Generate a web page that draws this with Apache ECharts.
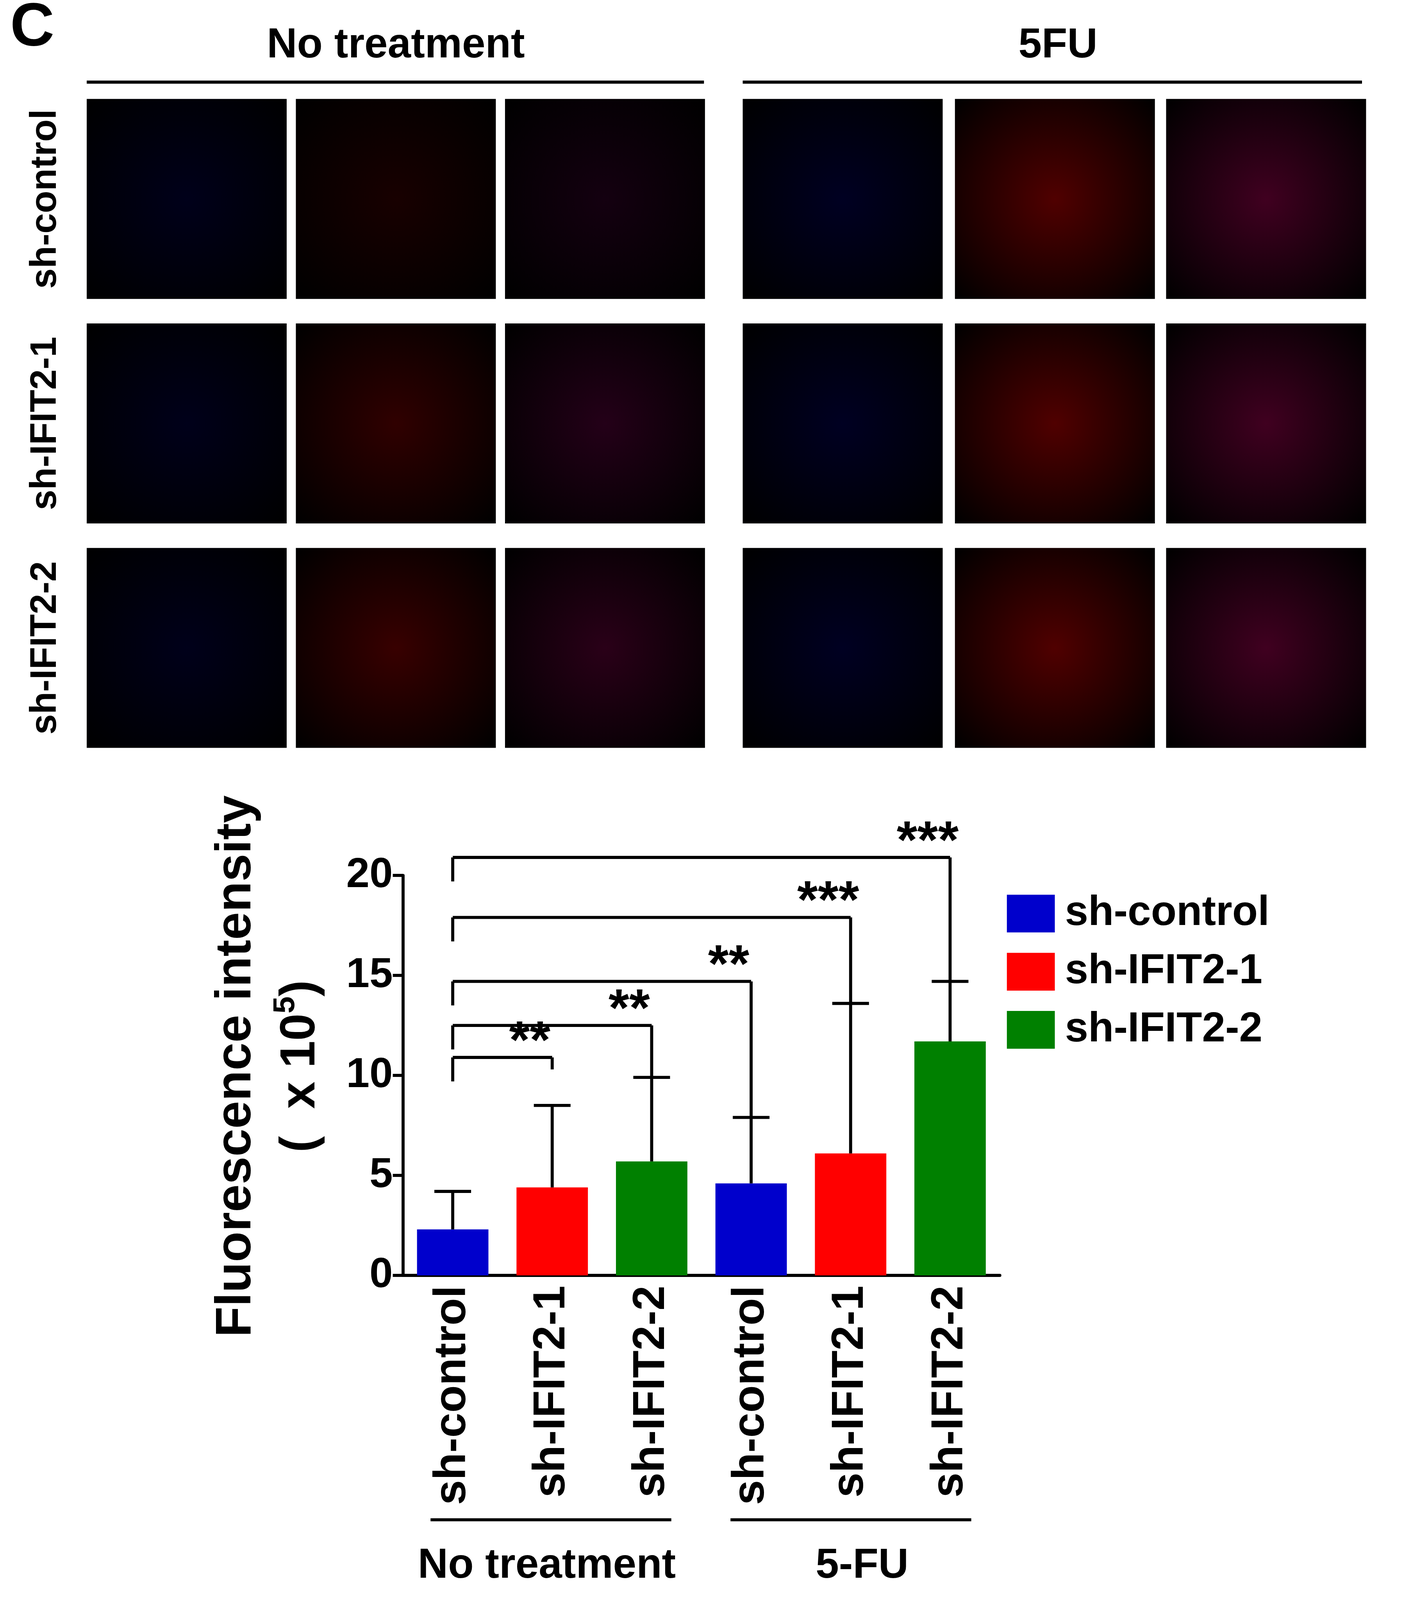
<!DOCTYPE html>
<html><head><meta charset="utf-8">
<script src="https://cdn.jsdelivr.net/npm/echarts@6/dist/echarts.min.js"></script>
<style>html,body{margin:0;padding:0;background:#fff}#c{width:3656px;height:4246px}</style>
</head><body><div id="c"></div>
<script>
const categories = ['sh-control','sh-IFIT2-1','sh-IFIT2-2','sh-control','sh-IFIT2-1','sh-IFIT2-2'];
const means = [2.3, 4.4, 5.7, 4.6, 6.1, 11.7];
const errors = [1.9, 4.1, 4.2, 3.3, 7.5, 3.0];
const barColors = ['#0000CC','#FF0000','#008000','#0000CC','#FF0000','#008000'];
const legendNames = ['sh-control','sh-IFIT2-1','sh-IFIT2-2'];
// bracket: [fromIndex, toIndex, level, rightDropTo, stars]
const brackets = [
  [0,1,10.9,10.3,'**'],
  [0,2,12.5,9.9,'**'],
  [0,3,14.7,7.9,'**'],
  [0,4,17.9,13.6,'***'],
  [0,5,20.9,14.7,'***']
];
const groupLabels = ['No treatment','5-FU'];

const S = 2.612;
const F = 'Liberation Sans, Arial, sans-serif';
const chart = echarts.init(document.getElementById('c'));
const g = [];
g.push({type:'text',left:10*S,top:-2*S,style:{text:'C',font:'bold '+60*S+'px '+F,fill:'#000'}});
g.push({type:'text',x:388*S,y:45*S,style:{text:'No treatment',font:'bold '+41*S+'px '+F,fill:'#000',align:'center',verticalAlign:'middle'}});
g.push({type:'text',x:1037*S,y:45*S,style:{text:'5FU',font:'bold '+41*S+'px '+F,fill:'#000',align:'center',verticalAlign:'middle'}});
g.push({type:'rect',shape:{x:85*S,y:79*S,width:605*S,height:3*S},style:{fill:'#000'}});
g.push({type:'rect',shape:{x:728*S,y:79*S,width:607*S,height:3*S},style:{fill:'#000'}});
const colsX = [85,290,495,728,936,1143];
const rowsY = [97,317,537];
const strong = [['#00001a','#180000','#140010'],['#00001a','#300000','#240018'],['#00001a','#380000','#2a0018']];
rowsY.forEach((ry,ri)=>colsX.forEach((cx,ci)=>{
  const t = ci<3 ? strong[ri][ci%3] : ['#000022','#500000','#400020'][ci%3];
  g.push({type:'rect',shape:{x:cx*S,y:ry*S,width:196*S,height:196*S},style:{fill:{type:'radial',x:0.5,y:0.5,r:0.7,colorStops:[{offset:0,color:t},{offset:1,color:'#000'}]}}});
}));
['sh-control','sh-IFIT2-1','sh-IFIT2-2'].forEach((t,i)=>{
  g.push({type:'text',x:45*S,y:(rowsY[i]+98)*S,rotation:Math.PI/2,style:{text:t,font:'bold '+36*S+'px '+F,fill:'#000',align:'center',verticalAlign:'middle'}});
});
g.push({type:'text',x:232*S,y:1045*S,rotation:Math.PI/2,style:{text:'Fluorescence intensity',font:'bold '+49*S+'px '+F,fill:'#000',align:'center',verticalAlign:'middle'}});
g.push({type:'text',x:295*S,y:1045*S,rotation:Math.PI/2,style:{rich:{a:{font:'bold '+48*S+'px '+F,fill:'#000'},s:{font:'bold '+30*S+'px '+F,fill:'#000',verticalAlign:'bottom',padding:[0,0,30*S,0]}},text:'{a|(  x 10}{s|5}{a|)}',align:'center',verticalAlign:'middle'}});
g.push({type:'rect',shape:{x:422*S,y:1488*S,width:236*S,height:3*S},style:{fill:'#000'}});
g.push({type:'rect',shape:{x:716*S,y:1488*S,width:236*S,height:3*S},style:{fill:'#000'}});
g.push({type:'text',x:536*S,y:1535*S,style:{text:groupLabels[0],font:'bold '+41*S+'px '+F,fill:'#000',align:'center',verticalAlign:'middle'}});
g.push({type:'text',x:845*S,y:1535*S,style:{text:groupLabels[1],font:'bold '+41*S+'px '+F,fill:'#000',align:'center',verticalAlign:'middle'}});

const seriesBars = legendNames.map((n,k)=>({
  name:n,type:'bar',stack:'s',barWidth:70*S,color:barColors[k],
  data:means.map((v,i)=>i%3===k?v:'-'),z:2
}));
chart.setOption({
  animation:false,
  graphic:g,
  legend:{data:legendNames,left:985*S,top:873*S,orient:'vertical',itemWidth:47*S,itemHeight:37*S,itemGap:16*S,
    textStyle:{fontSize:41*S,fontWeight:'bold',fontFamily:F,color:'#000',padding:[0,0,0,8*S]},icon:'rect'},
  grid:{left:395*S,top:858*S,width:585*S,height:392*S},
  xAxis:{type:'category',data:categories,axisLine:{lineStyle:{color:'#000',width:3*S}},axisTick:{show:false},
    axisLabel:{rotate:90,fontSize:44*S,fontWeight:'bold',fontFamily:F,color:'#000',margin:10*S}},
  yAxis:{type:'value',min:0,max:20,interval:5,axisLine:{show:true,lineStyle:{color:'#000',width:3*S}},
    axisTick:{show:true,length:10*S,lineStyle:{width:3*S,color:'#000'}},splitLine:{show:false},
    axisLabel:{fontSize:41*S,fontWeight:'bold',fontFamily:F,color:'#000',margin:10*S}},
  series:[...seriesBars,
   {type:'custom',z:3,data:means.map((m,i)=>[i,m,m+errors[i]]),
    renderItem:(p,api)=>{const a=api.coord([api.value(0),api.value(1)]),b=api.coord([api.value(0),api.value(2)]);const w=3*S;
      return {type:'group',children:[
       {type:'line',shape:{x1:a[0],y1:a[1],x2:b[0],y2:b[1]},style:{stroke:'#000',lineWidth:w}},
       {type:'line',shape:{x1:a[0]-18*S,y1:b[1],x2:a[0]+18*S,y2:b[1]},style:{stroke:'#000',lineWidth:w}}]};}},
   {type:'custom',z:4,data:brackets,
    renderItem:(p,api)=>{const f=api.value(0),t=api.value(1),lv=api.value(2),rd=api.value(3);
      const A=api.coord([f,lv]),B=api.coord([t,lv]),C=api.coord([t,rd]),D=api.coord([f,Math.max(lv-1.2,5)]);const w=3*S;
      return {type:'group',children:[
       {type:'line',shape:{x1:A[0],y1:A[1],x2:B[0],y2:B[1]},style:{stroke:'#000',lineWidth:w}},
       {type:'line',shape:{x1:B[0],y1:B[1],x2:C[0],y2:C[1]},style:{stroke:'#000',lineWidth:w}},
       {type:'line',shape:{x1:A[0],y1:A[1],x2:D[0],y2:D[1]},style:{stroke:'#000',lineWidth:w}},
       {type:'text',x:B[0]-22*S,y:B[1]+12*S,style:{text:brackets[p.dataIndex][4],font:'bold '+52*S+'px '+F,fill:'#000',align:'center',verticalAlign:'bottom'}}]};}}
  ]
});
</script></body></html>
